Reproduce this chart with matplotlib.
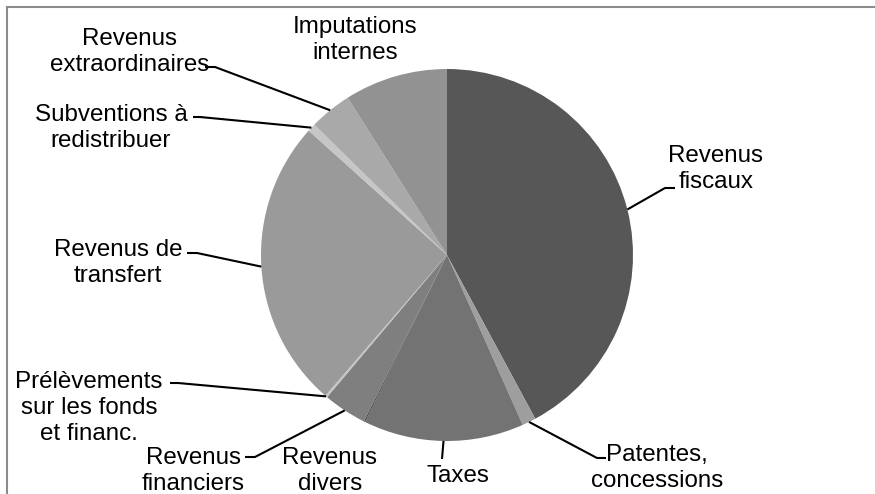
import numpy as np
import matplotlib
matplotlib.use("Agg")
import matplotlib.pyplot as plt

# ---- data ----
categories = ["Revenus\nfiscaux", "Patentes,\nconcessions", "Taxes", "Revenus\ndivers",
              "Revenus\nfinanciers", "Prélèvements\nsur les fonds\net financ.",
              "Revenus de\ntransfert", "Subventions à\nredistribuer",
              "Revenus\nextraordinaires", "Imputations\ninternes"]
values = [42.3, 1.2, 14.0, 0.1, 3.8, 0.2, 25.4, 0.7, 3.7, 9.0]
colors = ["#575757", "#9e9e9e", "#737373", "#3c3c3c", "#7f7f7f", "#c4c4c4",
          "#9a9a9a", "#c6c6c6", "#a9a9a9", "#929292"]

# ---- layout (pixel coords, y from top) ----
W, H = 875, 494
cx, cy, R = 447, 255, 186
# text centre, elbow point (None = no leader), horizontal end x
text_pos = [(716, 169), (657, 468), (458, 476), (330, 471), (193, 471),
            (89, 408), (118, 263), (111, 128), (130, 52), (355, 40)]
elbows = [(665, 188), (597, 458), (442, 459), None, (255, 457),
          (178, 383), (197, 253), (200, 117), (215, 67), None]
hends = [675, 606, None, None, 245, 170, 187, 193, 205, None]

plt.rcParams['font.family'] = ['Liberation Sans', 'DejaVu Sans']
fig = plt.figure(figsize=(W / 100, H / 100), dpi=100)
ax = fig.add_axes([0, 0, 1, 1])

wedges, _ = ax.pie(values, colors=colors, startangle=90, counterclock=False,
                   center=(cx, H - cy), radius=R, frame=True,
                   wedgeprops=dict(linewidth=0))
ax.set_xlim(0, W)
ax.set_ylim(0, H)
ax.set_aspect('equal')
ax.axis('off')

for w, lab, tp, el, he in zip(wedges, categories, text_pos, elbows, hends):
    ax.text(tp[0], H - tp[1], lab, ha='center', va='center', fontsize=17.4,
            linespacing=1.25, color='black')
    if el is None:
        continue
    mid = np.deg2rad((w.theta1 + w.theta2) / 2)
    px, py = cx + R * np.cos(mid), (H - cy) + R * np.sin(mid)
    xs = [px, el[0]]
    ys = [py, H - el[1]]
    if he is not None:
        xs.append(he)
        ys.append(H - el[1])
    ax.plot(xs, ys, color='black', lw=1.5, solid_capstyle='butt')

# chart border (cropped)
ax.plot([7, W], [H - 7, H - 7], color='#8c8c8c', lw=1.5)
ax.plot([7, 7], [H - 7, 0], color='#8c8c8c', lw=1.5)

fig.savefig("out.png", dpi=100)
